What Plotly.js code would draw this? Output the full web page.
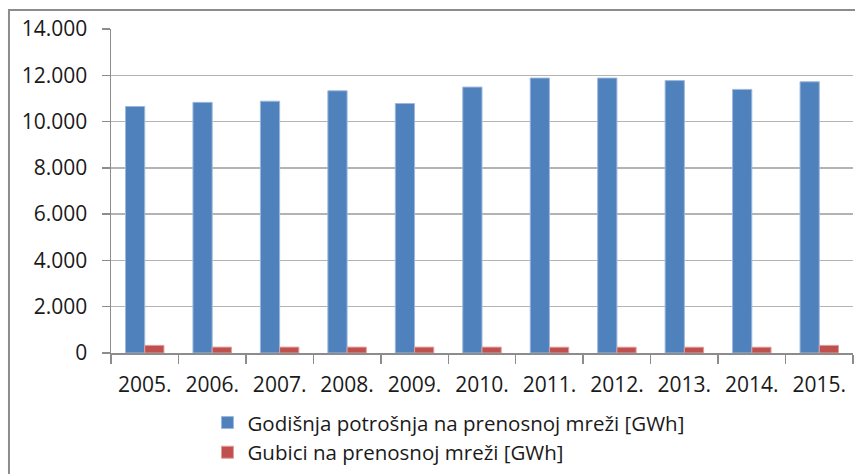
<!DOCTYPE html>
<html>
<head>
<meta charset="utf-8">
<script src="https://cdn.plot.ly/plotly-3.0.1.min.js"></script>
<style>
  html, body { margin: 0; padding: 0; background: #ffffff; }
  #chart { width: 855px; height: 474px; }
</style>
</head>
<body>
<div id="chart"></div>
<script>
const years = ["2005.", "2006.", "2007.", "2008.", "2009.", "2010.", "2011.", "2012.", "2013.", "2014.", "2015."];
const consumption = [10650, 10830, 10880, 11330, 10780, 11490, 11880, 11880, 11770, 11390, 11720];
const losses = [330, 255, 255, 255, 255, 255, 250, 250, 250, 250, 330];
const seriesNames = ["Godišnja potrošnja na prenosnoj mreži [GWh]", "Gubici na prenosnoj mreži [GWh]"];
const yTicks = [0, 2000, 4000, 6000, 8000, 10000, 12000, 14000];

const font = "Open Sans, Noto Sans, Liberation Sans, sans-serif";

const traces = [
  {
    type: "bar", name: seriesNames[0], x: years, y: consumption,
    marker: { color: "#4F81BD", line: { color: "#9DB8DC", width: 1 } },
    hoverinfo: "x+y"
  },
  {
    type: "bar", name: seriesNames[1], x: years, y: losses,
    marker: { color: "#C0504D", line: { color: "#DE9E9C", width: 1 } },
    hoverinfo: "x+y"
  }
];

const layout = {
  width: 855, height: 474,
  margin: { l: 111, r: 2, t: 29, b: 120 },
  paper_bgcolor: "#ffffff", plot_bgcolor: "#ffffff",
  separators: ",.",
  barmode: "group", bargap: 0.43, bargroupgap: 0,
  font: { family: font, color: "#1a1a1a", size: 21 },
  xaxis: {
    type: "category",
    showline: true, linecolor: "#8c8c8c", linewidth: 1.5,
    ticks: "outside", tickson: "boundaries", ticklen: 9, tickcolor: "#8c8c8c", tickwidth: 1.5,
    ticklabelstandoff: 12,
    tickfont: { family: font, size: 21, color: "#1a1a1a" },
    showgrid: false, zeroline: false
  },
  yaxis: {
    range: [0, 14000], tickvals: yTicks, tickformat: ",d",
    showline: true, linecolor: "#8c8c8c", linewidth: 1.5,
    ticks: "outside", ticklen: 8, tickcolor: "#8c8c8c", tickwidth: 1.5,
    ticklabelstandoff: 10,
    tickfont: { family: font, size: 21, color: "#1a1a1a" },
    showgrid: true, gridcolor: "#b3b3b3", gridwidth: 1.5, zeroline: false
  },
  showlegend: true,
  legend: {
    orientation: "v", x: 0.13, xanchor: "left", y: -0.15, yanchor: "top",
    font: { family: font, size: 20.5, color: "#1a1a1a" },
    bgcolor: "rgba(0,0,0,0)", itemwidth: 30, tracegroupgap: 0
  },
  shapes: [
    {
      type: "rect", xref: "paper", yref: "paper",
      x0: -0.1375, x1: 1.05, y0: -0.6, y1: 1.0585,
      line: { color: "#8c8c8c", width: 2 }, fillcolor: "rgba(0,0,0,0)", layer: "below"
    }
  ]
};

Plotly.newPlot("chart", traces, layout, { displayModeBar: false, staticPlot: true });
</script>
</body>
</html>
